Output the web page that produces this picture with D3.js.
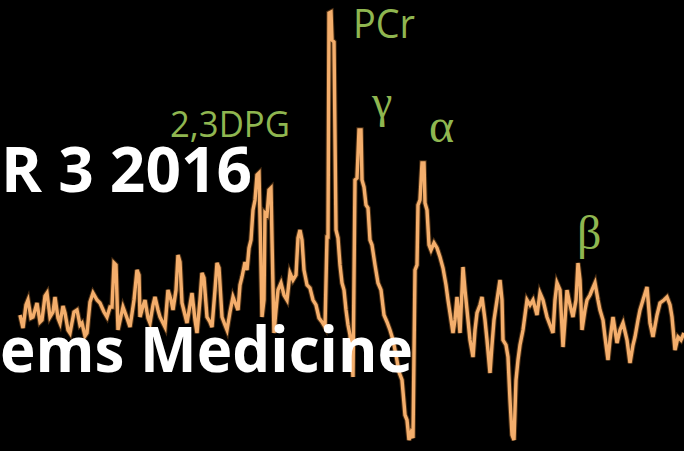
<!DOCTYPE html>
<html>
<head>
<meta charset="utf-8">
<script src="https://cdn.jsdelivr.net/npm/d3@7"></script>
<style>
  html, body { margin: 0; padding: 0; background: #000; }
  svg { display: block; }
</style>
</head>
<body>
<div id="spectrum"></div>
<script>
// 31P spectrum, chemical shift (ppm) and intensity (a.u.)
const ppm = [
  15.65, 15.5, 15.35, 15.25, 15.1, 15.0, 14.8, 14.65, 14.55, 14.4,
  14.3, 14.15, 14.0, 13.9, 13.75, 13.65, 13.5, 13.4, 13.25, 13.15,
  12.95, 12.8, 12.65, 12.55, 12.4, 12.3, 12.15, 12.0, 11.8, 11.65,
  11.45, 11.3, 11.15, 11.05, 10.95, 10.85, 10.75, 10.6, 10.5, 10.3,
  10.15, 9.95, 9.8, 9.7, 9.65, 9.5, 9.4, 9.25, 9.15, 9.0,
  8.9, 8.75, 8.65, 8.5, 8.4, 8.25, 8.1, 8.0, 7.85, 7.75,
  7.65, 7.55, 7.4, 7.3, 7.15, 7.05, 6.9, 6.8, 6.65, 6.55,
  6.45, 6.3, 6.15, 6.05, 5.9, 5.8, 5.7, 5.55, 5.4, 5.3,
  5.15, 5.0, 4.85, 4.75, 4.65, 4.55, 4.4, 4.3, 4.2, 4.1,
  4.0, 3.9, 3.8, 3.7, 3.65, 3.55, 3.45, 3.4, 3.3, 3.2,
  3.1, 3.05, 2.95, 2.85, 2.75, 2.6, 2.45, 2.3, 2.15, 2.0,
  1.85, 1.75, 1.65, 1.55, 1.45, 1.3, 1.15, 1.0, 0.85, 0.7,
  0.55, 0.4, 0.3, 0.25, 0.2, 0.1, 0.05, -0.05, -0.15, -0.25,
  -0.35, -0.45, -0.55, -0.65, -0.75, -0.85, -0.95, -1.0, -1.1, -1.2,
  -1.3, -1.4, -1.45, -1.55, -1.65, -1.75, -1.85, -1.95, -2.1, -2.25,
  -2.4, -2.55, -2.7, -2.85, -3.0, -3.15, -3.3, -3.45, -3.6, -3.7,
  -3.8, -3.9, -4.0, -4.1, -4.2, -4.25, -4.35, -4.45, -4.55, -4.6,
  -4.7, -4.8, -4.9, -5.05, -5.2, -5.35, -5.5, -5.65, -5.75, -5.85,
  -6.0, -6.1, -6.2, -6.3, -6.35, -6.45, -6.5, -6.6, -6.7, -6.85,
  -7.0, -7.1, -7.2, -7.35, -7.45, -7.6, -7.7, -7.85, -7.95, -8.05,
  -8.2, -8.35, -8.45, -8.5, -8.65, -8.75, -8.85, -8.95, -9.05, -9.15,
  -9.25, -9.35, -9.5, -9.7, -9.85, -10.0, -10.2, -10.35, -10.5, -10.7,
  -10.85, -11.0, -11.1, -11.2, -11.35, -11.5, -11.6, -11.7, -11.85, -12.0,
  -12.15, -12.25, -12.35, -12.45, -12.6, -12.7, -12.85, -12.95, -13.1, -13.25,
  -13.35, -13.5, -13.6, -13.75, -13.85, -14.0, -14.1, -14.2, -14.35, -14.5,
  -14.7, -14.85, -15.0, -15.1, -15.25, -15.35, -15.5, -15.7, -15.85, -16.0,
  -16.2, -16.35, -16.55, -16.7, -16.85, -16.95, -17.1, -17.25, -17.4, -17.55
];
const intensity = [
  15, 2, 25, 30, 12, 13, 27, 8, 10, 34,
  37, 13, 18, 33, 12, 7, 24, 17, 0, -3,
  18, 20, 5, 7, -6, -3, 28, 37, 30, 27,
  18, 13, 23, 23, 67, 65, 0, 14, 23, 12,
  3, 30, 60, 55, 13, 24, 30, 12, 7, 25,
  33, 20, 13, 7, 3, 40, 30, 20, 40, 75,
  68, 27, 15, 7, 25, 37, 10, -3, 30, 57,
  52, 13, 8, 3, 40, 67, 62, 13, 5, 0,
  18, 33, 25, 20, 45, 53, 68, 60, 82, 90,
  120, 130, 155, 157, 113, 13, 30, 117, 115, 140,
  142, 90, -3, 20, 40, 47, 35, 30, 57, 50,
  55, 92, 100, 90, 60, 45, 42, 30, 25, 12,
  8, 3, 93, 93, 317, 318, 290, 288, 100, 92,
  65, 47, 40, 20, 5, -5, -30, -47, 150, 152,
  200, 200, 150, 143, 125, 122, 90, 85, 65, 47,
  40, 15, 8, 0, -10, -25, -42, -50, -85, -90,
  -110, -103, -108, 60, 65, 125, 130, 167, 167, 127,
  120, 85, 80, 87, 82, 73, 62, 45, 30, 17,
  -3, 10, 33, 10, -3, 40, 63, 40, 20, -10,
  -27, 0, 17, 25, 33, 10, -10, -43, -15, 10,
  30, 50, 30, -10, -15, -27, -70, -105, -110, -50,
  -30, -15, 0, 30, 25, 30, 15, 37, 30, 13,
  5, -3, 30, 47, 40, -17, 10, 40, 25, 13,
  30, 67, 50, 0, 20, 30, 35, 40, 47, 30,
  20, 10, -7, -30, -10, 13, 0, -13, 0, 7,
  -10, -33, -15, -7, 10, 20, 30, 43, 7, -7,
  15, 27, 30, 33, 25, 13, -20, -7, -10, -3
];

// peak labels, anchored in data units
const labelText = ["2,3DPG", "PCr", "γ", "α", "β"];
const labelPpm = [8.15, -1.0, -1.95, -4.8, -12.2];
const labelInt = [193, 292, 213, 188, 81];

const width = 684;
const height = 451;

const svg = d3.select("#spectrum")
  .append("svg")
  .attr("width", width)
  .attr("height", height)
  .style("background", "#000");

// ppm axis runs right to left, as usual for NMR
const x = d3.scaleLinear()
  .domain([15.65, -17.55])
  .range([20, 684]);

const y = d3.scaleLinear()
  .domain([-121, 330])
  .range([height, 0]);

const data = ppm.map(function(p, i) { return { ppm: p, v: intensity[i] }; });

const path = d3.line()
  .x(function(d) { return x(d.ppm); })
  .y(function(d) { return y(d.v); });

// dark edge under the orange trace
svg.append("path")
  .datum(data)
  .attr("d", path)
  .attr("fill", "none")
  .attr("stroke", "#5a3818")
  .attr("stroke-width", 5.4)
  .attr("stroke-linejoin", "miter")
  .attr("opacity", 0.85);

svg.append("path")
  .datum(data)
  .attr("d", path)
  .attr("fill", "none")
  .attr("stroke", "#f4ae6c")
  .attr("stroke-width", 3.4)
  .attr("stroke-linejoin", "miter");

// peak labels
const labelFont = ["Open Sans", "Open Sans", "Liberation Serif", "Liberation Serif", "Liberation Serif"];
const labelSize = [36, 40, 46, 48, 48];
const labelLen = [120, 62, null, null, null];

svg.selectAll("text.peak")
  .data(labelText)
  .enter()
  .append("text")
    .attr("class", "peak")
    .attr("x", function(d, i) { return x(labelPpm[i]); })
    .attr("y", function(d, i) { return y(labelInt[i]); })
    .attr("fill", "#8fb650")
    .style("font-family", function(d, i) { return labelFont[i]; })
    .style("font-size", function(d, i) { return labelSize[i] + "px"; })
    .attr("textLength", function(d, i) { return labelLen[i]; })
    .attr("lengthAdjust", "spacingAndGlyphs")
    .text(function(d) { return d; });

// title fragments laid over the spectrum
svg.append("text")
  .attr("x", 1)
  .attr("y", 192)
  .attr("fill", "#fff")
  .style("font-family", "Open Sans")
  .style("font-weight", "bold")
  .style("font-size", "63px")
  .attr("textLength", 251)
  .attr("lengthAdjust", "spacingAndGlyphs")
  .text("R 3 2016");

svg.append("text")
  .attr("x", 0)
  .attr("y", 372)
  .attr("fill", "#fff")
  .style("font-family", "Open Sans")
  .style("font-weight", "bold")
  .style("font-size", "63px")
  .attr("textLength", 413)
  .attr("lengthAdjust", "spacingAndGlyphs")
  .text("ems Medicine");
</script>
</body>
</html>
